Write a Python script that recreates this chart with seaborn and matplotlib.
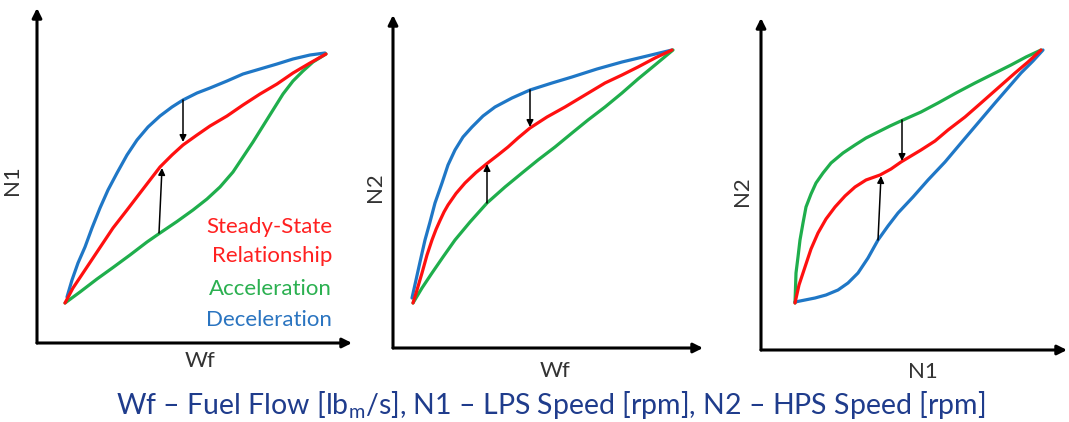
import pandas as pd
import matplotlib.pyplot as plt
import seaborn as sns

# 读图得到的曲线 (单位: 以各子图坐标原点为零点的像素)
# 子图 1: N1 vs Wf
p1_blue_x = [30, 35, 41, 48, 55, 63, 71, 80, 90, 100, 111, 123, 135, 146, 160, 173, 190, 206, 223, 240, 256, 273, 288]
p1_blue_y = [46, 63, 80, 96, 115, 135, 153, 170, 188, 203, 216, 227, 236, 243, 250, 255, 262, 269, 274, 279, 284, 288, 290]
p1_red_x = [28, 36, 46, 56, 66, 76, 90, 103, 113, 123, 135, 146, 160, 173, 190, 206, 223, 240, 256, 273, 289]
p1_red_y = [40, 55, 70, 85, 100, 115, 133, 150, 163, 176, 188, 198, 208, 217, 227, 238, 249, 259, 270, 280, 289]
p1_green_x = [28, 43, 60, 76, 93, 110, 123, 140, 156, 170, 183, 196, 206, 216, 226, 236, 246, 256, 266, 276, 289]
p1_green_y = [40, 51, 64, 75.5, 88, 101, 110, 121.5, 133, 144, 156, 171, 186, 201, 217, 233, 249, 262, 272, 281, 289]

# 子图 2: N2 vs Wf
p2_blue_x = [19, 23, 27, 32, 37, 42, 49, 55, 62, 70, 79, 90, 102, 119, 137, 159, 179, 204, 229, 254, 279]
p2_blue_y = [50, 68, 86, 108, 126, 145, 165, 183, 198, 211, 221, 232, 241, 250, 258, 265, 271, 279, 286, 292, 298]
p2_red_x = [20, 24, 29, 34, 39, 43, 47, 51, 55, 63, 72, 83, 94, 105, 115, 125, 137, 154, 172, 192, 212, 229, 245, 262, 279]
p2_red_y = [45, 58, 75, 93, 108, 118.5, 127.5, 136, 143, 154.5, 165, 175.5, 184.5, 193, 201, 210, 220, 231, 241, 253, 265, 273, 281, 290, 298]
p2_green_x = [20, 29, 39, 50, 62, 77, 94, 112, 129, 145, 162, 179, 195, 212, 229, 245, 262, 280]
p2_green_y = [45, 60, 75, 91, 108, 126, 145, 161, 175, 188, 201, 215, 228, 241, 255, 269, 283, 298]

# 子图 3: N2 vs N1
p3_blue_x = [34, 44, 54, 65, 77, 87, 97, 107, 117, 127, 137, 152, 167, 184, 200, 217, 234, 247, 260, 272, 282]
p3_blue_y = [48, 50, 52, 55, 60, 67, 77, 92, 110, 124, 137, 153, 170, 188, 207, 227, 247, 262, 277, 289, 300]
p3_red_x = [34, 38, 44, 50, 57, 65, 74, 84, 94, 105, 119, 130, 140, 150, 160, 174, 187, 204, 220, 237, 254, 267, 280]
p3_red_y = [47, 65, 83, 101, 117, 131, 143, 154, 163, 170, 175, 181, 188, 194, 200, 209, 220, 233, 247, 262, 277, 288, 300]
p3_green_x = [34, 34.5, 35, 37, 39, 42, 45, 50, 55, 62, 70, 82, 94, 105, 117, 129, 142, 160, 177, 195, 214, 232, 250, 265, 280]
p3_green_y = [47, 62, 77, 93, 110, 127, 143, 156, 167, 177, 187, 197, 205, 212, 218, 224, 230, 238, 247, 257, 267, 276, 285, 293, 300]

# 黑色小箭头 (起点 -> 终点)
p1_arrows = [((146, 243), (146, 201)), ((122, 110), (125, 175))]
p2_arrows = [((137, 258), (137, 221)), ((94, 145), (94, 184))]
p3_arrows = [((141, 230), (141, 189)), ((117, 110), (120, 174))]

curve_names = ['Deceleration', 'Acceleration', 'Steady-State']
curve_colors = {'Deceleration': '#1f77c6', 'Acceleration': '#1fae4c',
                'Steady-State': '#ff1010'}

legend_text = ['Steady-State', 'Relationship', 'Acceleration', 'Deceleration']
legend_colors = ['#ff2020', '#ff2020', '#2bb050', '#2a74c0']

x_labels = ['Wf', 'Wf', 'N1']
y_labels = ['N1', 'N2', 'N2']
caption = 'Wf – Fuel Flow [lb$_\\mathregular{m}$/s], N1 – LPS Speed [rpm], N2 – HPS Speed [rpm]'

sns.set_theme(style='white')
plt.rcParams['font.family'] = ['Lato', 'DejaVu Sans']
plt.rcParams['mathtext.fontset'] = 'custom'
plt.rcParams['mathtext.rm'] = 'Lato'

W, H = 1069, 422
fig = plt.figure(figsize=(W / 100, H / 100), dpi=100)

# 各子图坐标轴位置 (像素): 原点 x, 原点 y, 宽, 高
panels = [
    (37, 343, 315, 335),
    (393, 348, 310, 333),
    (761, 350, 306, 332),
]
data = [
    (p1_blue_x, p1_blue_y, p1_green_x, p1_green_y, p1_red_x, p1_red_y, p1_arrows),
    (p2_blue_x, p2_blue_y, p2_green_x, p2_green_y, p2_red_x, p2_red_y, p2_arrows),
    (p3_blue_x, p3_blue_y, p3_green_x, p3_green_y, p3_red_x, p3_red_y, p3_arrows),
]
xlab_pos = [(0.517, -0.025), (0.523, -0.04), (0.53, -0.035)]
ylab_pos = [(-0.048, 0.487), (-0.026, 0.483), (-0.03, 0.48)]

for i, ((x0, y0, w, h), d) in enumerate(zip(panels, data)):
    ax = fig.add_axes([x0 / W, (H - y0) / H, w / W, h / H])
    bx, by, gx, gy, rx, ry, arrows = d
    df = pd.concat([
        pd.DataFrame({'x': bx, 'y': by, 'curve': 'Deceleration'}),
        pd.DataFrame({'x': gx, 'y': gy, 'curve': 'Acceleration'}),
        pd.DataFrame({'x': rx, 'y': ry, 'curve': 'Steady-State'}),
    ])
    sns.lineplot(data=df, x='x', y='y', hue='curve', hue_order=curve_names,
                 palette=curve_colors, estimator=None, sort=False,
                 linewidth=2.3, legend=False, ax=ax,
                 solid_joinstyle='round', solid_capstyle='round')

    for start, end in arrows:
        ax.annotate('', xy=end, xytext=start,
                    arrowprops=dict(arrowstyle='-|>', color='black', lw=1.1,
                                    mutation_scale=10, shrinkA=0, shrinkB=0))

    ax.set_xlim(0, w)
    ax.set_ylim(0, h)
    ax.set_xticks([])
    ax.set_yticks([])
    sns.despine(ax=ax, left=True, bottom=True)

    # 坐标轴画成箭头
    ax.annotate('', xy=(1, 0), xytext=(0, 0), xycoords='axes fraction',
                arrowprops=dict(arrowstyle='-|>', color='black', lw=2.2,
                                mutation_scale=14, shrinkA=0, shrinkB=0))
    ax.annotate('', xy=(0, 1), xytext=(0, 0), xycoords='axes fraction',
                arrowprops=dict(arrowstyle='-|>', color='black', lw=2.2,
                                mutation_scale=14, shrinkA=0, shrinkB=0))

    ax.set_xlabel(x_labels[i], fontsize=16, color='#333333')
    ax.set_ylabel(y_labels[i], fontsize=16, color='#333333')
    ax.xaxis.set_label_coords(*xlab_pos[i])
    ax.yaxis.set_label_coords(*ylab_pos[i])

    if i == 0:
        for txt, col, yy in zip(legend_text, legend_colors,
                                [0.346, 0.260, 0.161, 0.069]):
            ax.text(0.937, yy, txt, color=col, fontsize=16,
                    ha='right', va='center', transform=ax.transAxes)

fig.text(551 / W, 1 - 405 / H, caption, color='#1f3c8c', fontsize=20.5,
         ha='center', va='center')

fig.savefig('out.png', dpi=100)
